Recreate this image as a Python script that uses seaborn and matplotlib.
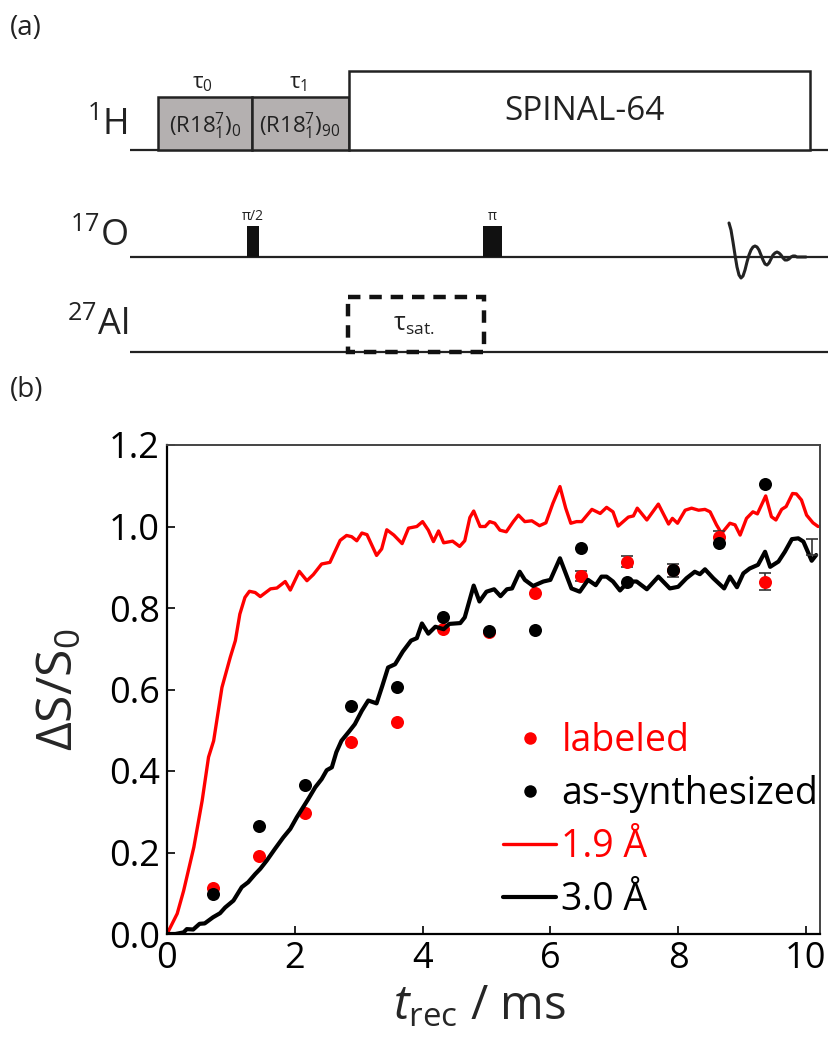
import numpy as np
import matplotlib
matplotlib.use("Agg")
import matplotlib.pyplot as plt
import seaborn as sns
from matplotlib.lines import Line2D
from matplotlib.patches import Rectangle

# measured recoupling points (t_rec in ms)
t_pts = [0.72, 1.44, 2.16, 2.88, 3.60, 4.32, 5.04, 5.76, 6.48, 7.20, 7.92, 8.64, 9.36]
labeled = [0.113, 0.191, 0.298, 0.471, 0.521, 0.748, 0.740, 0.838, 0.879, 0.914, 0.893, 0.975, 0.865]
labeled_err = [0, 0, 0, 0, 0, 0, 0, 0, 0.012, 0.013, 0, 0.015, 0.02]
as_syn = [0.098, 0.266, 0.366, 0.560, 0.605, 0.779, 0.744, 0.746, 0.948, 0.865, 0.893, 0.959, 1.104]
as_syn_err = [0, 0, 0, 0, 0, 0, 0, 0, 0, 0, 0.016, 0, 0]
end_t = [10.1]
end_v = [0.95]
end_err = [0.02]

# simulated curves
sim19_t = [0.00, 0.16, 0.26, 0.42, 0.55, 0.65, 0.73, 0.86, 0.99, 1.07, 1.14, 1.22, 1.29, 1.38,
           1.46, 1.62, 1.72, 1.85, 1.93, 2.07, 2.19, 2.29, 2.42, 2.55, 2.71, 2.81, 2.89, 2.97,
           3.05, 3.13, 3.28, 3.36, 3.44, 3.55, 3.68, 3.78, 3.91, 4.00, 4.09, 4.17, 4.25, 4.33,
           4.47, 4.58, 4.66, 4.74, 4.80, 4.90, 4.98, 5.05, 5.13, 5.21, 5.31, 5.42, 5.50, 5.60,
           5.71, 5.83, 5.93, 6.04, 6.15, 6.24, 6.32, 6.41, 6.49, 6.65, 6.78, 6.88, 6.98, 7.06,
           7.22, 7.30, 7.36, 7.51, 7.69, 7.85, 7.91, 7.99, 8.11, 8.21, 8.32, 8.42, 8.50, 8.60,
           8.68, 8.81, 8.89, 8.97, 9.07, 9.17, 9.24, 9.37, 9.46, 9.53, 9.62, 9.69, 9.79, 9.85,
           9.93, 10.01, 10.11, 10.19]
sim19_v = [0.000, 0.050, 0.106, 0.213, 0.327, 0.434, 0.474, 0.605, 0.679, 0.720, 0.785, 0.826, 0.841, 0.838,
           0.828, 0.847, 0.849, 0.865, 0.844, 0.890, 0.867, 0.882, 0.908, 0.912, 0.966, 0.978, 0.975, 0.965,
           0.984, 0.980, 0.929, 0.945, 0.992, 0.979, 0.958, 0.996, 1.000, 1.012, 0.991, 0.963, 0.989, 0.960,
           0.964, 0.951, 0.965, 1.022, 1.038, 1.000, 1.000, 1.012, 1.008, 0.991, 0.987, 1.012, 1.028, 1.012,
           1.014, 1.002, 1.009, 1.057, 1.098, 1.045, 1.008, 1.012, 1.012, 1.042, 1.032, 1.047, 1.036, 1.001,
           1.023, 1.026, 1.045, 1.016, 1.055, 1.006, 1.020, 1.008, 1.040, 1.045, 1.040, 1.042, 1.036, 1.004,
           0.983, 1.008, 1.004, 0.979, 1.020, 1.036, 1.031, 1.075, 1.024, 1.016, 1.042, 1.049, 1.081, 1.080,
           1.065, 1.028, 1.009, 1.000]

sim30_t = [0.00, 0.13, 0.26, 0.31, 0.41, 0.51, 0.59, 0.72, 0.83, 0.91, 1.04, 1.17, 1.27, 1.38,
           1.46, 1.56, 1.69, 1.82, 1.93, 2.03, 2.13, 2.21, 2.32, 2.42, 2.50, 2.58, 2.65, 2.73,
           2.86, 2.94, 3.05, 3.15, 3.28, 3.37, 3.46, 3.57, 3.69, 3.82, 3.91, 3.99, 4.09, 4.20,
           4.33, 4.42, 4.59, 4.66, 4.80, 4.89, 5.00, 5.12, 5.22, 5.32, 5.40, 5.52, 5.60, 5.73,
           5.89, 6.00, 6.15, 6.24, 6.33, 6.46, 6.59, 6.71, 6.80, 6.88, 6.98, 7.09, 7.22, 7.35,
           7.51, 7.69, 7.87, 8.00, 8.13, 8.26, 8.34, 8.42, 8.55, 8.72, 8.81, 8.92, 9.02, 9.12,
           9.25, 9.36, 9.44, 9.57, 9.67, 9.78, 9.88, 9.96, 10.09, 10.16]
sim30_v = [0.000, 0.000, 0.004, 0.012, 0.011, 0.025, 0.026, 0.041, 0.051, 0.065, 0.082, 0.115, 0.127, 0.147,
           0.160, 0.180, 0.209, 0.237, 0.258, 0.286, 0.311, 0.331, 0.360, 0.380, 0.402, 0.409, 0.446, 0.474,
           0.499, 0.515, 0.548, 0.573, 0.566, 0.609, 0.654, 0.662, 0.693, 0.720, 0.726, 0.762, 0.737, 0.754,
           0.748, 0.761, 0.763, 0.777, 0.855, 0.816, 0.840, 0.846, 0.829, 0.846, 0.848, 0.889, 0.869, 0.854,
           0.865, 0.869, 0.922, 0.885, 0.848, 0.840, 0.869, 0.856, 0.877, 0.877, 0.865, 0.843, 0.865, 0.865,
           0.846, 0.877, 0.848, 0.852, 0.873, 0.889, 0.883, 0.895, 0.873, 0.848, 0.877, 0.851, 0.885, 0.897,
           0.906, 0.938, 0.901, 0.914, 0.938, 0.969, 0.971, 0.963, 0.916, 0.930]

legend_labels = ["labeled", "as-synthesized", "1.9 Å", "3.0 Å"]
x_ticks = [0, 2, 4, 6, 8, 10]
y_ticks = [0.0, 0.2, 0.4, 0.6, 0.8, 1.0, 1.2]

sns.set_theme(style="ticks")
plt.rcParams["font.family"] = ["Open Sans", "DejaVu Sans"]
plt.rcParams["mathtext.fontset"] = "custom"
plt.rcParams["mathtext.rm"] = "Open Sans"
plt.rcParams["mathtext.it"] = "Open Sans:italic"
plt.rcParams["mathtext.bf"] = "Open Sans:bold"

W, H = 835, 1053
fig = plt.figure(figsize=(W / 100, H / 100), dpi=100)

# ---- (a) pulse sequence, drawn in pixel coordinates ----
top_h = 380
axa = fig.add_axes([0, 1 - top_h / H, 1, top_h / H])
axa.set_xlim(0, W)
axa.set_ylim(top_h, 0)
axa.axis("off")

ink = "#222222"
for yb in [150, 257, 352]:
    axa.plot([130, 828], [yb, yb], color=ink, lw=1.6, solid_capstyle="butt")

axa.add_patch(Rectangle((158, 97), 94, 53, facecolor="#b4b0b0", edgecolor=ink, lw=1.8, zorder=3))
axa.add_patch(Rectangle((252, 97), 97, 53, facecolor="#b4b0b0", edgecolor=ink, lw=1.8, zorder=3))
axa.add_patch(Rectangle((349, 71), 461, 79, facecolor="white", edgecolor=ink, lw=1.8, zorder=3))
axa.text(205, 126, r"(R18$_1^7$)$_0$", ha="center", va="center", fontsize=16, color=ink, zorder=4)
axa.text(300, 126, r"(R18$_1^7$)$_{90}$", ha="center", va="center", fontsize=16, color=ink, zorder=4)
axa.text(202, 84, r"τ$_0$", ha="center", va="center", fontsize=16, color=ink)
axa.text(298, 84, r"τ$_1$", ha="center", va="center", fontsize=16, color=ink)
axa.text(585, 112, "SPINAL-64", ha="center", va="center", fontsize=24, color=ink, zorder=4)

axa.add_patch(Rectangle((247, 226), 12, 31, facecolor="#111111", edgecolor="none", zorder=3))
axa.add_patch(Rectangle((483, 226), 19, 31, facecolor="#111111", edgecolor="none", zorder=3))
axa.text(253, 216, "π/2", ha="center", va="center", fontsize=10, color=ink)
axa.text(492, 216, "π", ha="center", va="center", fontsize=10, color=ink)

# free induction decay sketch
fid_x = [729, 731, 733, 735, 737, 739, 741, 743, 745, 747, 749, 751, 753, 755, 757, 759, 761, 763,
         765, 767, 769, 771, 773, 775, 777, 779, 781, 783, 785, 787, 789, 791, 793, 795, 797, 799, 802, 806]
fid_y = [223, 230, 242, 255, 267, 275, 278, 276, 270, 262, 255, 250, 247, 246, 247, 250, 255, 260,
         264, 265, 263, 259, 255, 253, 252, 253, 255, 258, 260, 260, 259, 257, 256, 256, 257, 257, 257, 257]
axa.plot(fid_x, fid_y, color=ink, lw=2.2, zorder=4)

axa.add_patch(Rectangle((348, 297), 136, 55, facecolor="none", edgecolor="#111111", lw=3.2,
                        linestyle=(0, (2.8, 2.0)), zorder=4))
axa.text(414, 325, r"τ$_{\mathrm{sat.}}$", ha="center", va="center", fontsize=18, color=ink)

axa.text(128, 126, r"$^{1}$H", ha="right", va="center", fontsize=26, color=ink)
axa.text(128, 237, r"$^{17}$O", ha="right", va="center", fontsize=26, color=ink)
axa.text(128, 326, r"$^{27}$Al", ha="right", va="center", fontsize=26, color=ink)
axa.text(10, 28, "(a)", ha="left", va="center", fontsize=20, color=ink)
axa.text(10, 390, "(b)", ha="left", va="center", fontsize=20, color=ink)

# ---- (b) recoupling curves ----
ax = fig.add_axes([167 / W, (H - 934) / H, (820 - 167) / W, 489 / H])


def draw_bars(xs, ys, errs, z):
    keep = [i for i, e in enumerate(errs) if e > 0]
    ax.errorbar([xs[i] for i in keep], [ys[i] for i in keep], yerr=[errs[i] for i in keep],
                fmt="none", ecolor="#333333", elinewidth=1.2, capsize=4.5, capthick=1.2, zorder=z)


sns.lineplot(x=sim19_t, y=sim19_v, ax=ax, color="red", lw=2.4, sort=False, estimator=None,
             legend=False, zorder=2)
draw_bars(t_pts, labeled, labeled_err, 2.2)
sns.scatterplot(x=t_pts, y=labeled, ax=ax, color="red", s=88, linewidth=0, legend=False, zorder=2.5)
sns.lineplot(x=sim30_t, y=sim30_v, ax=ax, color="black", lw=3.0, sort=False, estimator=None,
             legend=False, zorder=3)
draw_bars(t_pts, as_syn, as_syn_err, 3.2)
draw_bars(end_t, end_v, end_err, 3.2)
sns.scatterplot(x=t_pts, y=as_syn, ax=ax, color="black", s=88, linewidth=0, legend=False, zorder=3.5)

ax.set_xlim(0, 10.22)
ax.set_ylim(0, 1.2)
ax.set_xticks(x_ticks)
ax.set_xticklabels([str(v) for v in x_ticks])
ax.set_yticks(y_ticks)
ax.set_yticklabels([f"{v:.1f}" for v in y_ticks])
ax.tick_params(direction="in", length=6, width=1.2, labelsize=26, colors="black", pad=5,
               top=False, right=False)
for side in ["left", "bottom"]:
    ax.spines[side].set_color("black")
    ax.spines[side].set_linewidth(1.6)
for side in ["top", "right"]:
    ax.spines[side].set_color("#444444")
    ax.spines[side].set_linewidth(1.4)

ax.set_ylabel("ΔS/S$_0$", fontsize=36)
ax.yaxis.set_label_coords(-0.125, 0.5)
ax.set_xlabel(r"$t_{\mathrm{rec}}$ / ms", fontsize=34)
ax.xaxis.set_label_coords(0.479, -0.1)

handles = [
    Line2D([], [], marker="o", ls="none", color="red", markersize=9, markeredgewidth=0),
    Line2D([], [], marker="o", ls="none", color="black", markersize=9, markeredgewidth=0),
    Line2D([], [], color="red", lw=2.4),
    Line2D([], [], color="black", lw=3.0),
]
leg = ax.legend(handles, legend_labels, frameon=False, fontsize=27, loc="lower left",
                bbox_to_anchor=(0.515, 0.03), handlelength=1.4, handletextpad=0.15,
                labelspacing=0.4, borderaxespad=0, borderpad=0)
for txt, c in zip(leg.get_texts(), ["red", "black", "red", "black"]):
    txt.set_color(c)

fig.savefig("out.png", dpi=100)
